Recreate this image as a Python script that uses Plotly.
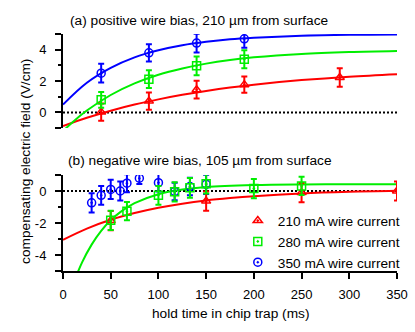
import plotly.graph_objects as go

# ---------------- data ----------------
# (a) positive wire bias, 210 um from surface
a_t_210 = [40, 90, 140, 190, 290]
a_y_210 = [0.02, 0.72, 1.45, 1.77, 2.23]
a_e_210 = [0.55, 0.55, 0.57, 0.52, 0.59]
a_t_280 = [40, 90, 140, 190]
a_y_280 = [0.80, 2.12, 2.97, 3.39]
a_e_280 = [0.50, 0.57, 0.60, 0.57]
a_t_350 = [40, 90, 140, 190]
a_y_350 = [2.50, 3.80, 4.42, 4.69]
a_e_350 = [0.60, 0.55, 0.60, 0.57]

# fit curves (a)
fit_t = [0, 25, 50, 75, 100, 125, 150, 175, 200, 250, 300, 350]
a_fit_210 = [-0.87, -0.34, 0.11, 0.50, 0.83, 1.12, 1.37, 1.59, 1.77, 2.06, 2.28, 2.44]
a_fit_280_t = [0, 10, 25, 50, 75, 100, 125, 150, 175, 200, 250, 300, 350]
a_fit_280 = [-1.20, -0.62, 0.12, 1.11, 1.85, 2.40, 2.80, 3.11, 3.34, 3.51, 3.73, 3.85, 3.92]
a_fit_350 = [0.50, 1.89, 2.84, 3.51, 3.96, 4.28, 4.50, 4.66, 4.76, 4.89, 4.95, 4.97]

# (b) negative wire bias, 105 um from surface
b_t_210 = [50, 150, 250, 350]
b_y_210 = [-1.85, -0.63, -0.10, 0.00]
b_e_210 = [0.60, 0.60, 0.60, 0.60]
b_t_280 = [50, 67, 100, 117, 133, 150, 200, 250]
b_y_280 = [-1.83, -1.26, -0.27, -0.05, 0.20, 0.45, 0.15, 0.32]
b_e_280 = [0.60, 0.57, 0.59, 0.60, 0.62, 0.60, 0.60, 0.57]
b_t_350 = [30, 40, 50, 60, 67, 80, 100, 117, 133, 150]
b_y_350 = [-0.74, -0.27, 0.10, 0.00, 0.49, 0.80, 0.52, -0.03, 0.28, 0.42]
b_e_350 = [0.60, 0.59, 0.60, 0.60, 0.56, 0.36, 0.55, 0.55, 0.55, 0.60]

# fit curves (b)
b_fit_210 = [-3.05, -2.35, -1.80, -1.38, -1.05, -0.79, -0.59, -0.44, -0.32, -0.15, -0.05, 0.01]
b_fit_280_t = [10, 20, 30, 40, 50, 60, 75, 100, 125, 150, 200, 250, 300, 350]
b_fit_280 = [-5.90, -4.46, -3.35, -2.49, -1.83, -1.32, -0.76, -0.20, 0.09, 0.25, 0.37, 0.41, 0.42, 0.42]

zero_t = [0, 350]
zero_y = [0, 0]

legend_names = ["210 mA wire current", "280 mA wire current", "350 mA wire current"]
x_ticks = [0, 50, 100, 150, 200, 250, 300, 350]

# ---------------- styles ----------------
RED = "#ff0000"
GREEN = "#00ee00"
BLUE = "#0000ff"
FONT = "Arial, Liberation Sans, sans-serif"
TXT = 13.7

fig = go.Figure()

def add_zero(xa, ya):
    fig.add_trace(go.Scatter(x=zero_t, y=zero_y, mode="lines", xaxis=xa, yaxis=ya,
                             line=dict(color="black", width=2, dash="2px,2px"),
                             showlegend=False, hoverinfo="skip"))

def add_fit(t, y, color, xa, ya):
    fig.add_trace(go.Scatter(x=t, y=y, mode="lines", xaxis=xa, yaxis=ya,
                             line=dict(color=color, width=2, shape="spline", smoothing=1.0),
                             showlegend=False, hoverinfo="skip"))

def add_pts(t, y, e, color, symbol, xa, ya, name, show, rank):
    fig.add_trace(go.Scatter(x=t, y=y, mode="markers", xaxis=xa, yaxis=ya, name=name,
                             legendgroup=name, showlegend=show, legendrank=rank,
                             marker=dict(symbol=symbol, size=8, color=color,
                                         line=dict(color=color, width=1.5)),
                             error_y=dict(type="data", array=e, visible=True,
                                          color=color, thickness=2, width=3)))

# top panel (a)
add_zero("x2", "y2")
add_fit(fit_t, a_fit_210, RED, "x2", "y2")
add_fit(a_fit_280_t, a_fit_280, GREEN, "x2", "y2")
add_fit(fit_t, a_fit_350, BLUE, "x2", "y2")
add_pts(a_t_210, a_y_210, a_e_210, RED, "triangle-up-open-dot", "x2", "y2", legend_names[0], False, 1)
add_pts(a_t_280, a_y_280, a_e_280, GREEN, "square-open-dot", "x2", "y2", legend_names[1], False, 2)
add_pts(a_t_350, a_y_350, a_e_350, BLUE, "circle-open-dot", "x2", "y2", legend_names[2], False, 3)

# bottom panel (b)
add_zero("x", "y")
add_fit(fit_t, b_fit_210, RED, "x", "y")
add_fit(b_fit_280_t, b_fit_280, GREEN, "x", "y")
add_pts(b_t_350, b_y_350, b_e_350, BLUE, "circle-open-dot", "x", "y", legend_names[2], True, 3)
add_pts(b_t_210, b_y_210, b_e_210, RED, "triangle-up-open-dot", "x", "y", legend_names[0], True, 1)
add_pts(b_t_280, b_y_280, b_e_280, GREEN, "square-open-dot", "x", "y", legend_names[1], True, 2)

yaxis_common = dict(showline=True, linecolor="black", linewidth=2, ticks="outside",
                    ticklen=6, tickwidth=2, tickcolor="black", showgrid=False, zeroline=False,
                    tickfont=dict(size=13, color="black"), ticklabelstandoff=6,
                    minor=dict(ticks="outside", ticklen=3, tickwidth=2, tickcolor="black",
                               dtick=1, showgrid=False))

fig.update_layout(
    width=415, height=332,
    margin=dict(l=63, r=18, t=34, b=61, autoexpand=False),
    paper_bgcolor="white", plot_bgcolor="white",
    font=dict(family=FONT, size=13, color="black"),
    xaxis=dict(domain=[0, 1], range=[0, 350], anchor="y", showline=True, linecolor="black",
               linewidth=2, ticks="outside", ticklen=6, tickwidth=2, tickcolor="black",
               tickvals=x_ticks, showgrid=False, zeroline=False,
               tickfont=dict(size=13, color="black"), ticklabelstandoff=4),
    xaxis2=dict(domain=[0, 1], range=[0, 350], anchor="y2", visible=False),
    yaxis=dict(domain=[0, 0.405], range=[-5, 1], anchor="x",
               tickvals=[-5, -4, -2, 0, 1], ticktext=["", "-4", "-2", "0", ""], **yaxis_common),
    yaxis2=dict(domain=[0.603, 1], range=[-1, 5], anchor="x2",
                tickvals=[-1, 0, 2, 4, 5], ticktext=["", "0", "2", "4", ""], **yaxis_common),
    legend=dict(xref="container", yref="container", x=0.573, y=0.382,
                xanchor="left", yanchor="top", bgcolor="rgba(0,0,0,0)",
                font=dict(size=TXT, color="black"), tracegroupgap=0, traceorder="normal"),
    annotations=[
        dict(text="(a) positive wire bias, 210 µm from surface", xref="paper", yref="paper",
             x=0.014, y=1.059, xanchor="left", yanchor="middle", showarrow=False,
             font=dict(size=TXT)),
        dict(text="(b) negative wire bias, 105 µm from surface", xref="paper", yref="paper",
             x=0.010, y=0.465, xanchor="left", yanchor="middle", showarrow=False,
             font=dict(size=TXT)),
        dict(text="compensating electric field (V/cm)", xref="paper", yref="paper",
             x=-0.114, y=0.464, xanchor="center", yanchor="middle", textangle=-90,
             showarrow=False, font=dict(size=TXT)),
        dict(text="hold time in chip trap (ms)", xref="paper", yref="paper",
             x=0.5015, y=-0.178, xanchor="center", yanchor="middle", showarrow=False,
             font=dict(size=TXT)),
    ],
)

fig.write_html("out.html", config={"displayModeBar": False},
               post_script="document.body.style.margin='0';document.body.style.overflow='hidden';")
